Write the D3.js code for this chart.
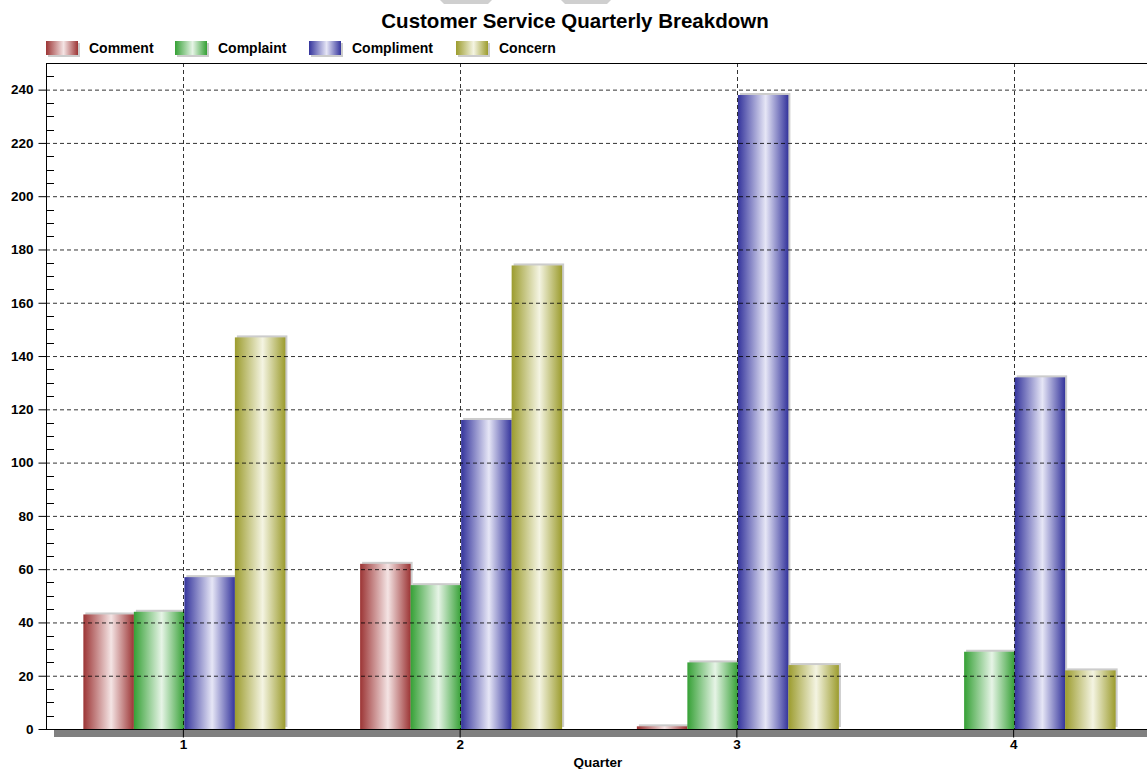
<!DOCTYPE html>
<html>
<head>
<meta charset="utf-8">
<script src="https://cdn.jsdelivr.net/npm/d3@7"></script>
<style>
  body { margin: 0; background: #fff; }
  text { font-family: "Liberation Sans", Arial, sans-serif; }
</style>
</head>
<body>
<div id="vizcontainer"></div>
<script>
const
  width = 1147,
  height = 769
  ;

const quarters = ['1', '2', '3', '4'];
const series = ['Comment', 'Complaint', 'Compliment', 'Concern'];
const comment = [43, 62, 1, 0];
const complaint = [44, 54, 25, 29];
const compliment = [57, 116, 238, 132];
const concern = [147, 174, 24, 22];
const yTicks = [0, 20, 40, 60, 80, 100, 120, 140, 160, 180, 200, 220, 240];

const seriesValues = [comment, complaint, compliment, concern];
const dark = ['#9c3535', '#35a035', '#34349c', '#9c9c2e'];
const light = ['#f4e4e4', '#e6f4e6', '#e6e6f6', '#f4f4e2'];

const margin = { left: 46, top: 63, right: 1153, bottom: 729 };

let xScale = d3.scaleBand()
  .domain(quarters)
  .range([margin.left, margin.right]);

let groupW = xScale.bandwidth() * 0.73;
let xInner = d3.scaleBand()
  .domain(series)
  .range([0, groupW]);

let yScale = d3.scaleLinear()
  .domain([0, 250])
  .range([margin.bottom, margin.top]);

let viz = d3.select('#vizcontainer')
  .append('svg')
  .attr('width', width)
  .attr('height', height);

let defs = viz.append('defs');
series.forEach((s, i) => {
  let g = defs.append('linearGradient')
    .attr('id', 'grad' + i)
    .attr('x1', '0%').attr('x2', '100%')
    .attr('y1', '0%').attr('y2', '0%');
  g.append('stop').attr('offset', '0%').attr('stop-color', dark[i]);
  g.append('stop').attr('offset', '55%').attr('stop-color', light[i]);
  g.append('stop').attr('offset', '100%').attr('stop-color', dark[i]);
});

// grey tabs at the very top
viz.append('path').attr('d', 'M440,0 L492,0 L488,4 L444,4 Z').attr('fill', '#cfcfcf');
viz.append('path').attr('d', 'M561,0 L611,0 L607,4 L565,4 Z').attr('fill', '#cfcfcf');

// title
viz.append('text')
  .attr('x', 575)
  .attr('y', 28)
  .attr('text-anchor', 'middle')
  .attr('font-size', 20.5)
  .attr('font-weight', 'bold')
  .text('Customer Service Quarterly Breakdown');

// legend
const legendX = [46, 175, 309, 456];
let legend = viz.append('g');
series.forEach((s, i) => {
  legend.append('rect')
    .attr('x', legendX[i] + 2).attr('y', 43)
    .attr('width', 32).attr('height', 14)
    .attr('fill', '#cccccc');
  legend.append('rect')
    .attr('x', legendX[i]).attr('y', 41)
    .attr('width', 32).attr('height', 14)
    .attr('fill', 'url(#grad' + i + ')');
  legend.append('text')
    .attr('x', legendX[i] + 43)
    .attr('y', 53)
    .attr('font-size', 14)
    .attr('font-weight', 'bold')
    .text(s);
});

// floor
viz.append('rect')
  .attr('x', margin.left + 8)
  .attr('y', margin.bottom)
  .attr('width', width - margin.left - 8)
  .attr('height', 8)
  .attr('fill', '#808080');

// bars
let bars = viz.append('g');
quarters.forEach((q, qi) => {
  let gx = xScale(q) + (xScale.bandwidth() - groupW) / 2;
  series.forEach((s, si) => {
    let v = seriesValues[si][qi];
    if (v <= 0) return;
    let x = gx + xInner(s);
    let y = yScale(v);
    let h = margin.bottom - y;
    bars.append('rect')
      .attr('x', x + 2).attr('y', y - 2)
      .attr('width', xInner.bandwidth()).attr('height', h)
      .attr('fill', '#cccccc');
    bars.append('rect')
      .attr('x', x).attr('y', y)
      .attr('width', xInner.bandwidth()).attr('height', h)
      .attr('fill', 'url(#grad' + si + ')');
  });
});

// grid
let grid = viz.append('g')
  .attr('stroke', '#000')
  .attr('stroke-opacity', 0.8)
  .attr('stroke-dasharray', '4,3');
grid.selectAll('line.h')
  .data(yTicks.filter(d => d > 0))
  .join('line')
  .attr('x1', margin.left).attr('x2', width)
  .attr('y1', d => yScale(d) + 0.5).attr('y2', d => yScale(d) + 0.5);
grid.selectAll('line.v')
  .data(quarters)
  .join('line')
  .attr('class', 'v')
  .attr('y1', margin.top).attr('y2', margin.bottom)
  .attr('x1', d => Math.round(xScale(d) + xScale.bandwidth() / 2) - 0.5)
  .attr('x2', d => Math.round(xScale(d) + xScale.bandwidth() / 2) - 0.5);

// frame
viz.append('line')
  .attr('x1', margin.left + 0.5).attr('x2', width)
  .attr('y1', margin.top + 0.5).attr('y2', margin.top + 0.5)
  .attr('stroke', '#000');

// y axis
let yAxis = viz.append('g')
  .attr('transform', `translate(${margin.left + 0.5},0)`)
  .call(d3.axisLeft(yScale).tickValues(yTicks).tickSize(8).tickPadding(5));
yAxis.select('.domain').attr('d', `M0,${margin.top}V${margin.bottom}`);
yAxis.selectAll('text')
  .attr('font-size', 13.5)
  .attr('font-weight', 'bold')
  .attr('fill', '#000')
  .attr('font-family', '"Liberation Sans", Arial, sans-serif');

let minorTicks = d3.range(5, 250, 5).filter(d => d % 20 !== 0);
viz.append('g')
  .selectAll('line')
  .data(minorTicks)
  .join('line')
  .attr('x1', margin.left).attr('x2', margin.left + 8)
  .attr('y1', d => Math.round(yScale(d)) + 0.5).attr('y2', d => Math.round(yScale(d)) + 0.5)
  .attr('stroke', '#000');

// x axis
let xAxis = viz.append('g')
  .attr('transform', `translate(-1,${margin.bottom + 0.5})`)
  .call(d3.axisBottom(xScale).tickSize(8).tickPadding(2));
xAxis.select('.domain').attr('d', `M${margin.left + 1},0H${width + 1}`);
xAxis.selectAll('text')
  .attr('font-size', 13.5)
  .attr('font-weight', 'bold')
  .attr('fill', '#000')
  .attr('font-family', '"Liberation Sans", Arial, sans-serif');

viz.append('text')
  .attr('x', 598)
  .attr('y', 767)
  .attr('text-anchor', 'middle')
  .attr('font-size', 13.5)
  .attr('font-weight', 'bold')
  .text('Quarter');
</script>
</body>
</html>
